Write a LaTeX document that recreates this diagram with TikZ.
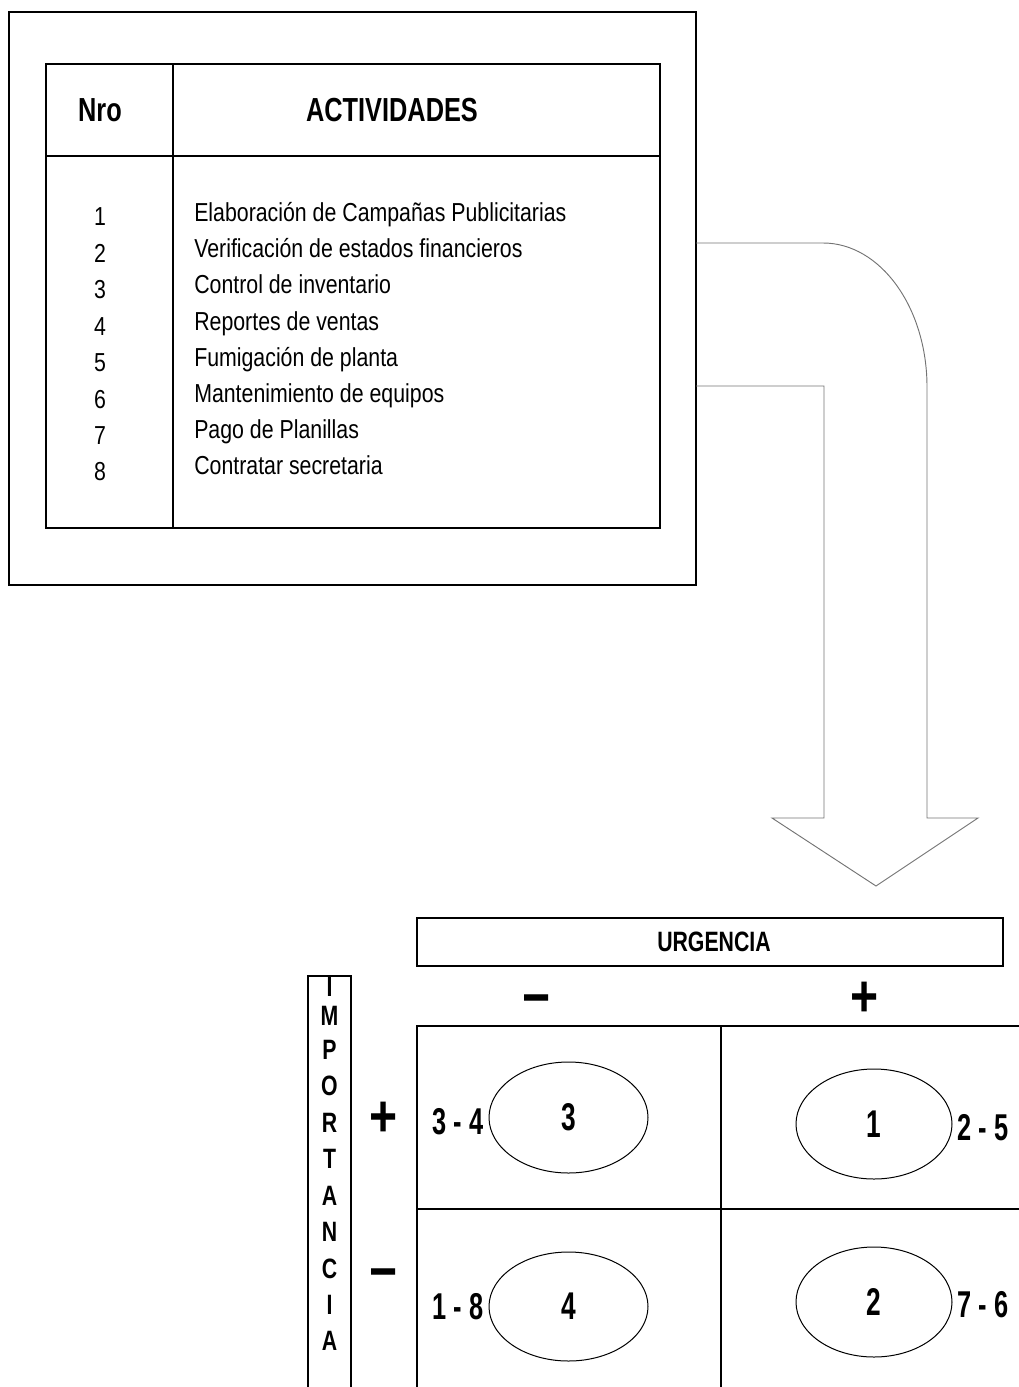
\documentclass[tikz,border=0pt]{standalone}
\usepackage{fontspec}
\setmainfont{Liberation Sans}[FakeStretch=0.82]
\newfontfamily\headfont{Liberation Sans}[FakeStretch=0.76]
\newfontfamily\tallfont{Liberation Sans}[FakeStretch=0.68]
\usetikzlibrary{shapes.geometric}

\begin{document}
\begin{tikzpicture}[x=0.75pt,y=-0.75pt,
  box/.style={draw=black,line width=0.9pt,inner sep=0pt},
  grid/.style={draw=black,line width=1.1pt},
  head/.style={font=\headfont\fontsize{25}{28}\selectfont\bfseries},
  item/.style={font=\fontsize{19.5}{22}\selectfont,anchor=base west,inner sep=0pt},
  num/.style={font=\fontsize{19.5}{22}\selectfont,anchor=base,inner sep=0pt},
  letter/.style={font=\headfont\fontsize{21}{24}\selectfont\bfseries,inner sep=0pt},
  sign/.style={font=\fontsize{44}{48}\selectfont\bfseries,anchor=base,inner sep=0pt},
  oval/.style={ellipse,draw=black,line width=0.75pt,inner sep=0pt,
    font=\tallfont\fontsize{29}{30}\selectfont\bfseries},
  pair/.style={font=\tallfont\fontsize{28}{30}\selectfont\bfseries,inner sep=0pt},
  bigarrow/.style={draw=black!55,line width=0.7pt,line join=miter}]

\useasboundingbox (0,0) rectangle (1019,1387);
\clip (0,0) rectangle (1019,1387);

% activity list
\node[box,minimum width=515.25pt,minimum height=429.75pt] (outer) at (352.5,298.5) {};
\node[box,minimum width=460.5pt,minimum height=348pt] (table) at (353,296) {};
\draw[line width=0.9pt] (173,64) -- (173,528);
\draw[line width=0.9pt] (46,156) -- (660,156);
\node[head] (nro) at (100,110) {Nro};
\node[head] (act) at (392,110) {ACTIVIDADES};

\foreach \n/\t [count=\k from 0] in {
  1/{Elaboración de Campañas Publicitarias},
  2/{Verificación de estados financieros},
  3/{Control de inventario},
  4/{Reportes de ventas},
  5/{Fumigación de planta},
  6/{Mantenimiento de equipos},
  7/{Pago de Planillas},
  8/{Contratar secretaria}}{
  \node[num] (n\n) at (100,{226+36.4*\k}) {\n};
  \node[item] (a\n) at (194,{222+36*\k}) {\t};
}

% bent block arrow
\coordinate (ta) at (696,243);
\coordinate (tb) at (696,386);
\draw[bigarrow] (ta) -- (823,243) .. controls (880.4,243) and (927,307.5) .. (927,387)
  -- (927,818) -- (978,818) -- (876,886) -- (772,818) -- (824,818)
  -- (824,386) -- (tb);

% urgency / importance matrix
\node[box,minimum width=439.5pt,minimum height=36pt] (urg) at (710,942) {};
\node[head,font=\headfont\fontsize{21}{24}\selectfont\bfseries] (urgt) at (714,942) {URGENCIA};

\node[box,minimum width=32.25pt,minimum height=318pt] (imp) at (329.5,1188) {};
\begin{scope}
  \clip (308,976) rectangle (351,1400);
  \foreach \c/\y [count=\i] in {I/987,M/1016,P/1050,O/1086,R/1123,T/1159,A/1196,N/1232,C/1269,I/1305,A/1341}
    \node[letter] (l\i) at (329.5,\y) {\c};
\end{scope}

\node[sign] (um) at (537,1017) {−};
\node[sign] (up) at (865,1016) {+};
\node[sign] (ip) at (384,1136) {+};
\node[sign] (im) at (384,1291) {−};

\draw[grid] (417,1026) rectangle (1040,1420);
\draw[grid] (721,1026) -- (721,1420);
\draw[grid] (417,1209) -- (1040,1209);

\node[oval,minimum width=119.25pt,minimum height=83.25pt] (e3) at (568.5,1117.5) {3};
\node[oval,minimum width=117pt,minimum height=82.5pt] (e1) at (874,1124) {1};
\node[oval,minimum width=119.25pt,minimum height=81.75pt] (e4) at (568.5,1306.5) {4};
\node[oval,minimum width=117pt,minimum height=82.5pt] (e2) at (874,1302) {2};

\node[pair,anchor=east] (p34) at ([xshift=-3.5pt,yshift=-3pt]e3.west) {3 - 4};
\node[pair,anchor=east] (p18) at ([xshift=-3.5pt]e4.west) {1 - 8};
\node[pair,anchor=west] (p25) at ([xshift=3.5pt,yshift=-3pt]e1.east) {2 - 5};
\node[pair,anchor=west] (p76) at ([xshift=3.5pt,yshift=-2pt]e2.east) {7 - 6};

\end{tikzpicture}
\end{document}
